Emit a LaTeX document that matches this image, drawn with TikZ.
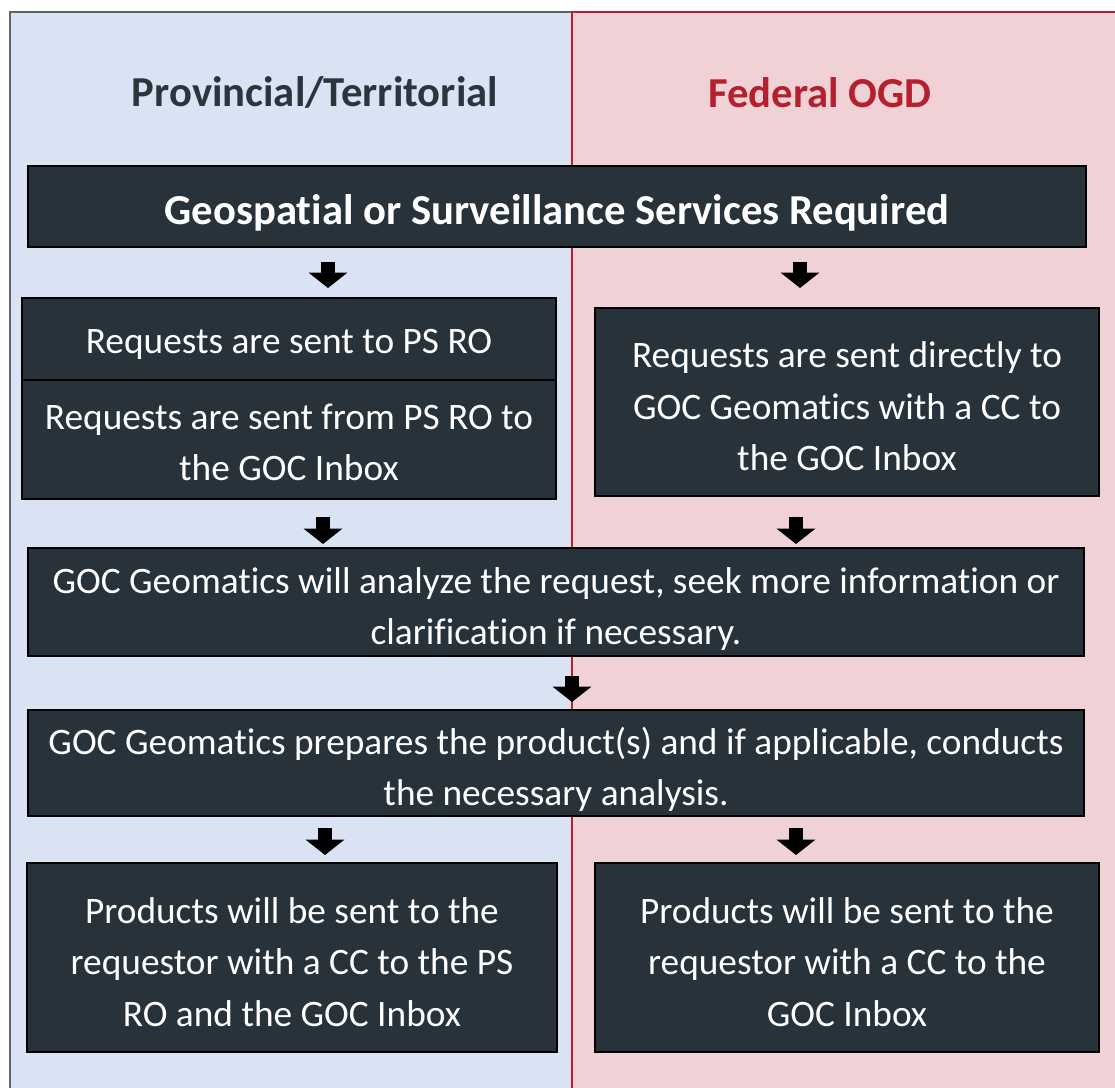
\documentclass[tikz,border=0pt]{standalone}
\usepackage{fontspec}
\setmainfont{Carlito}[Ligatures=NoCommon]
\usetikzlibrary{arrows.meta,calc}
\definecolor{boxfill}{HTML}{28323A}
\definecolor{ttl}{HTML}{2B353C}
\definecolor{redttl}{HTML}{B5202E}
\definecolor{pblue}{HTML}{DAE3F3}
\definecolor{ppink}{HTML}{F0D1D6}
\definecolor{pgray}{HTML}{5F6368}
\definecolor{pred}{HTML}{B8202F}
\begin{document}
\begin{tikzpicture}[x=0.75pt,y=-0.75pt,
  box/.style={draw=black, line width=1.5pt, fill=boxfill, inner sep=0pt},
  boxtxt/.style={text=white, align=center, inner sep=0pt, font=\fontsize{28}{38.5}\selectfont},
  hdr/.style={font=\fontsize{32}{38}\selectfont\bfseries},
  blk/.style={line width=11pt, draw=black, -{Triangle[width=28.5pt,length=11.5pt]}}]
\useasboundingbox (0,0) rectangle (1115,1088);
\fill[white] (0,0) rectangle (1115,1088);
\draw[fill=pblue, draw=pgray, line width=1pt] (10,12) rectangle (572,1100);
\draw[fill=ppink, draw=pred, line width=1pt] (572,12) rectangle (1130,1100);
\node[hdr, text=ttl] (tl) at (315,93) {Provincial/Territorial};
\node[hdr, text=redttl] (tr) at (820,93) {Federal OGD};
% boxes
\node[box, minimum width=793.5pt, minimum height=60.75pt] (geo) at (557,206.5) {};
\node[box, minimum width=400.5pt, minimum height=61.5pt] (ps1) at (289,339) {};
\node[box, minimum width=400.5pt, minimum height=89.25pt] (ps2) at (289,439.5) {};
\node[box, minimum width=378pt, minimum height=141pt] (fed) at (847,402) {};
\node[box, minimum width=792pt, minimum height=81pt] (an) at (556,602) {};
\node[box, minimum width=792pt, minimum height=79.5pt] (prep) at (556,763) {};
\node[box, minimum width=397.5pt, minimum height=141.75pt] (outL) at (292,957.5) {};
\node[box, minimum width=378pt, minimum height=141.75pt] (outR) at (847,957.5) {};
% box texts
\node[boxtxt, font=\fontsize{32}{38}\selectfont\bfseries] (geo-t) at ($(geo.center)+(0,6)$) {Geospatial or Surveillance Services Required};
\node[boxtxt] (ps1-t) at ($(ps1.center)+(0,5)$) {Requests are sent to PS RO};
\node[boxtxt] (ps2-t) at ($(ps2.center)+(0,3)$) {Requests are sent from PS RO to\\the GOC Inbox};
\node[boxtxt] (fed-t) at ($(fed.center)+(0,4.5)$) {Requests are sent directly to\\GOC Geomatics with a CC to\\the GOC Inbox};
\node[boxtxt] (an-t) at ($(an.center)+(0,7)$) {GOC Geomatics will analyze the request, seek more information or\\clarification if necessary.};
\node[boxtxt] (prep-t) at ($(prep.center)+(0,6.5)$) {GOC Geomatics prepares the product(s) and if applicable, conducts\\the necessary analysis.};
\node[boxtxt] (outL-t) at ($(outL.center)+(0,4.5)$) {Products will be sent to the\\requestor with a CC to the PS\\RO and the GOC Inbox};
\node[boxtxt] (outR-t) at ($(outR.center)+(0,4.5)$) {Products will be sent to the\\requestor with a CC to the\\GOC Inbox};
% arrows
\coordinate (xa1) at (328,0);
\coordinate (xa2) at (800,0);
\coordinate (xa3) at (323,0);
\coordinate (xa4) at (796,0);
\coordinate (xa5) at (572,0);
\coordinate (xa6) at (325,0);
\draw[blk] ($(geo.south -| xa1)+(0,14)$) -- ($(ps1.north -| xa1)+(0,-9)$);
\draw[blk] ($(geo.south -| xa2)+(0,14)$) -- ($(fed.north -| xa2)+(0,-19)$);
\draw[blk] ($(ps2.south -| xa3)+(0,17)$) -- ($(an.north -| xa3)+(0,-3)$);
\draw[blk] ($(fed.south -| xa4)+(0,20)$) -- ($(an.north -| xa4)+(0,-3)$);
\draw[blk] ($(an.south -| xa5)+(0,19)$) -- ($(prep.north -| xa5)+(0,-7)$);
\draw[blk] ($(prep.south -| xa6)+(0,11)$) -- ($(outL.north -| xa6)+(0,-7)$);
\draw[blk] ($(prep.south -| xa4)+(0,11)$) -- ($(outR.north -| xa4)+(0,-7)$);
\end{tikzpicture}
\end{document}
